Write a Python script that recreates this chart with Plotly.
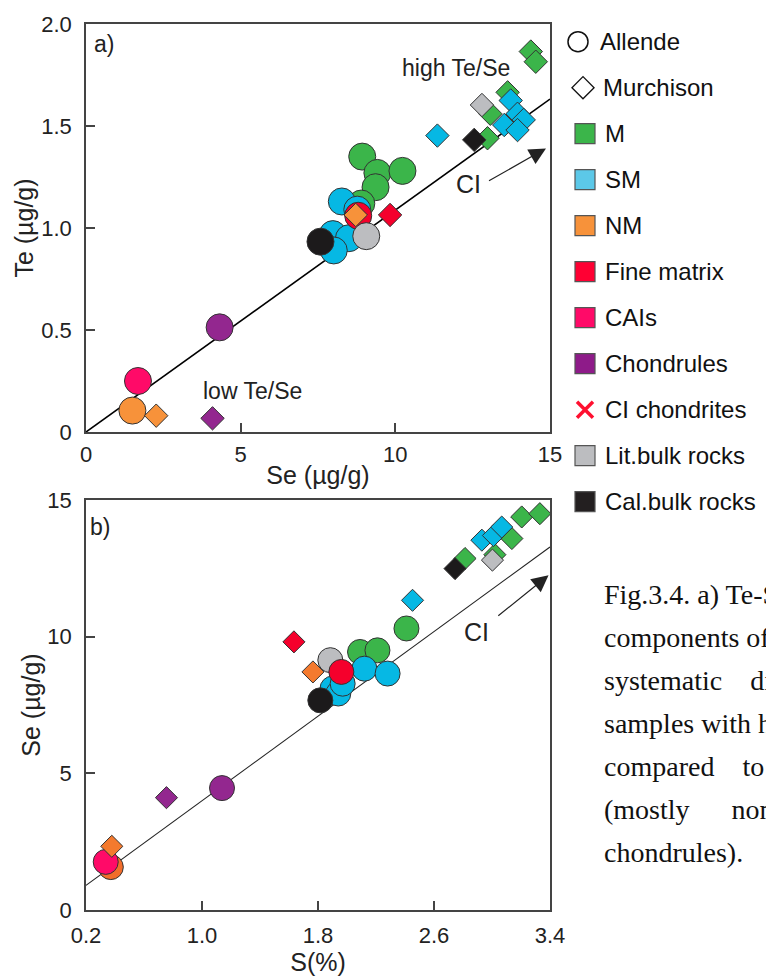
import plotly.graph_objects as go

# ---------------- data: panel a) Te vs Se ----------------
# Allende (circles)
a_M_x = [8.93, 9.42, 10.23, 9.36, 8.90]
a_M_y = [1.35, 1.27, 1.28, 1.20, 1.12]
a_SM_x = [8.27, 7.98, 8.50, 8.01, 8.77]
a_SM_y = [1.13, 0.97, 0.95, 0.89, 1.09]
a_NM_x = [1.50]
a_NM_y = [0.105]
a_FM_x = [8.80]
a_FM_y = [1.06]
a_CAI_x = [1.68]
a_CAI_y = [0.25]
a_CH_x = [4.32]
a_CH_y = [0.513]
a_LIT_x = [9.06]
a_LIT_y = [0.96]
a_CAL_x = [7.58]
a_CAL_y = [0.933]
# Murchison (diamonds)
m_M_x = [14.38, 14.54, 13.63, 13.07, 12.98]
m_M_y = [1.865, 1.815, 1.665, 1.56, 1.44]
m_SM_x = [11.36, 13.73, 13.95, 13.52, 14.15, 13.95]
m_SM_y = [1.453, 1.625, 1.56, 1.505, 1.53, 1.48]
m_NM_x = [2.27, 8.72]
m_NM_y = [0.08, 1.064]
m_FM_x = [9.83]
m_FM_y = [1.064]
m_CH_x = [4.09]
m_CH_y = [0.067]
m_LIT_x = [12.80]
m_LIT_y = [1.603]
m_CAL_x = [12.55]
m_CAL_y = [1.432]
ci_a_x = [0, 15]
ci_a_y = [0, 1.632]

# ---------------- data: panel b) Se vs S ----------------
b_a_M_x = [2.09, 2.21, 2.41]
b_a_M_y = [9.44, 9.50, 10.30]
b_a_SM_x = [1.90, 1.94, 1.97, 2.12, 2.28]
b_a_SM_y = [8.10, 7.92, 8.28, 8.83, 8.65]
b_a_NM_x = [0.371]
b_a_NM_y = [1.57]
b_a_FM_x = [1.961]
b_a_FM_y = [8.71]
b_a_CAI_x = [0.336]
b_a_CAI_y = [1.76]
b_a_CH_x = [1.138]
b_a_CH_y = [4.46]
b_a_LIT_x = [1.885]
b_a_LIT_y = [9.14]
b_a_CAL_x = [1.816]
b_a_CAL_y = [7.67]
b_m_M_x = [2.814, 3.02, 3.137, 3.205, 3.33]
b_m_M_y = [12.86, 13.0, 13.59, 14.38, 14.50]
b_m_SM_x = [2.452, 2.93, 3.01, 3.067]
b_m_SM_y = [11.33, 13.53, 13.70, 14.01]
b_m_NM_x = [0.378, 1.765]
b_m_NM_y = [2.33, 8.71]
b_m_FM_x = [1.634]
b_m_FM_y = [9.81]
b_m_CH_x = [0.755]
b_m_CH_y = [4.11]
b_m_LIT_x = [3.003]
b_m_LIT_y = [12.80]
b_m_CAL_x = [2.745]
b_m_CAL_y = [12.49]
ci_b_x = [0.2, 3.4]
ci_b_y = [0.9, 13.28]

# ---------------- legend entries ----------------
legend_labels = ["Allende", "Murchison", "M", "SM", "NM", "Fine matrix", "CAIs",
                 "Chondrules", "CI chondrites", "Lit.bulk rocks", "Cal.bulk rocks"]

C_M = "#3bb54a"
C_SM = "#06b8e4"
C_NM = "#f7923a"
C_FM = "#f5002c"
C_CAI = "#ff0a68"
C_CH = "#93278f"
C_LIT = "#bcbdc0"
C_CAL = "#1c1a1b"
EDGE = "#333333"

fig = go.Figure()

def add(x, y, color, symbol, size, xa, ya):
    fig.add_trace(go.Scatter(
        x=x, y=y, mode="markers", xaxis=xa, yaxis=ya, showlegend=False,
        hoverinfo="x+y", cliponaxis=False,
        marker=dict(color=color, symbol=symbol, size=size,
                    line=dict(color=EDGE, width=1))))

# CI reference lines
fig.add_trace(go.Scatter(x=ci_a_x, y=ci_a_y, mode="lines", xaxis="x", yaxis="y",
                         line=dict(color="black", width=1.6), showlegend=False, hoverinfo="skip"))
fig.add_trace(go.Scatter(x=ci_b_x, y=ci_b_y, mode="lines", xaxis="x2", yaxis="y2",
                         line=dict(color="#222", width=1.1), showlegend=False, hoverinfo="skip"))

CS_A, DS_A = 27, 18
CS_B, DS_B = 25, 17

# panel a circles
for x, y, c in [(a_M_x, a_M_y, C_M), (a_SM_x, a_SM_y, C_SM), (a_FM_x, a_FM_y, C_FM),
                (a_NM_x, a_NM_y, C_NM), (a_LIT_x, a_LIT_y, C_LIT), (a_CAL_x, a_CAL_y, C_CAL),
                (a_CAI_x, a_CAI_y, C_CAI), (a_CH_x, a_CH_y, C_CH)]:
    add(x, y, c, "circle", CS_A, "x", "y")
# panel a diamonds
for x, y, c in [(m_M_x, m_M_y, C_M), (m_LIT_x, m_LIT_y, C_LIT), (m_SM_x, m_SM_y, C_SM),
                (m_NM_x, m_NM_y, C_NM), (m_FM_x, m_FM_y, C_FM), (m_CH_x, m_CH_y, C_CH),
                (m_CAL_x, m_CAL_y, C_CAL)]:
    add(x, y, c, "diamond", DS_A, "x", "y")

# panel b circles
for x, y, c in [(b_a_M_x, b_a_M_y, C_M), (b_a_SM_x, b_a_SM_y, C_SM), (b_a_LIT_x, b_a_LIT_y, C_LIT),
                (b_a_FM_x, b_a_FM_y, C_FM), (b_a_CAL_x, b_a_CAL_y, C_CAL),
                (b_a_NM_x, b_a_NM_y, "#f26d2b"), (b_a_CAI_x, b_a_CAI_y, C_CAI), (b_a_CH_x, b_a_CH_y, C_CH)]:
    add(x, y, c, "circle", CS_B, "x2", "y2")
# panel b diamonds
for x, y, c in [(b_m_M_x, b_m_M_y, C_M), (b_m_SM_x, b_m_SM_y, C_SM), (b_m_LIT_x, b_m_LIT_y, C_LIT),
                (b_m_NM_x, b_m_NM_y, "#f47a2e"), (b_m_FM_x, b_m_FM_y, C_FM), (b_m_CH_x, b_m_CH_y, C_CH),
                (b_m_CAL_x, b_m_CAL_y, C_CAL)]:
    add(x, y, c, "diamond", DS_B, "x2", "y2")

# legend drawn on a hidden axis
leg_sym = ["circle-open", "diamond-open", "square", "square", "square", "square", "square",
           "square", "x-thin-open", "square", "square"]
leg_col = ["#111", "#111", C_M, "#5cc8e8", C_NM, "#ff0033", C_CAI, "#8e1b89", "#ff1030", C_LIT, "#231f20"]
leg_size = [20, 17, 20, 20, 20, 20, 20, 20, 16, 20, 20]
leg_lw = [1.5, 1.3, 1.2, 1.2, 1.2, 1.2, 1.2, 1.2, 3.5, 1.2, 1.2]
leg_lc = ["#111", "#111", "#555", "#555", "#555", "#555", "#555", "#555", "#ff1030", "#555", "#555"]
leg_mx = [11, 16, 18, 18, 18, 18, 18, 18, 18, 18, 18]
leg_tx = [31, 34, 36, 36, 36, 36, 36, 36, 36, 36, 36]
for i, lab in enumerate(legend_labels):
    fig.add_trace(go.Scatter(
        x=[leg_mx[i]], y=[i], mode="markers", xaxis="x3", yaxis="y3", showlegend=False,
        hoverinfo="skip", cliponaxis=False,
        marker=dict(symbol=leg_sym[i], color=leg_col[i], size=leg_size[i],
                    line=dict(color=leg_lc[i], width=leg_lw[i]))))
    fig.add_annotation(x=leg_tx[i], y=i, xref="x3", yref="y3", text=lab, showarrow=False,
                       xanchor="left", yanchor="middle",
                       font=dict(family="Liberation Sans, Arial", size=24, color="#111"))

FONT = "Liberation Sans, Arial"
axis_common = dict(showline=True, mirror=True, linecolor="#444", linewidth=1.7,
                   ticks="inside", ticklen=9, tickwidth=1.5, tickcolor="#444",
                   showgrid=False, zeroline=False, automargin=False,
                   tickfont=dict(family=FONT, size=22, color="#222"))
TF = dict(family=FONT, size=25, color="#222")

fig.update_layout(
    width=766, height=980, margin=dict(l=0, r=0, t=0, b=0, autoexpand=False),
    paper_bgcolor="white", plot_bgcolor="white", showlegend=False,
    xaxis=dict(domain=[86/766, 550/766], range=[0, 15], tickvals=[0, 5, 10, 15],
               ticktext=["0", "5", "10", "15"], anchor="y", ticklabelstandoff=2,
               title=dict(text="Se (µg/g)", font=TF, standoff=0),
               **axis_common),
    yaxis=dict(domain=[1-432/980, 1-24/980], range=[0, 2], tickvals=[0, 0.5, 1, 1.5, 2],
               ticktext=["0", "0.5", "1.0", "1.5", "2.0"], anchor="x", ticklabelstandoff=8,
               title=dict(text="Te (µg/g)", font=TF, standoff=0),
               **axis_common),
    xaxis2=dict(domain=[86/766, 550/766], range=[0.2, 3.4], tickvals=[0.2, 1.0, 1.8, 2.6, 3.4],
                ticktext=["0.2", "1.0", "1.8", "2.6", "3.4"], anchor="y2", ticklabelstandoff=5,
                title=dict(text="S(%)", font=TF, standoff=3),
                **axis_common),
    yaxis2=dict(domain=[1-910/980, 1-500/980], range=[0, 15], tickvals=[0, 5, 10, 15],
                ticktext=["0", "5", "10", "15"], anchor="x2", ticklabelstandoff=8,
                title=dict(text="Se (µg/g)", font=TF, standoff=0),
                **axis_common),
    xaxis3=dict(domain=[567/766, 1.0], range=[0, 199], visible=False, anchor="y3", automargin=False),
    yaxis3=dict(domain=[1-501.7/980, 1-41.7/980], range=[10, 0], visible=False, anchor="x3", automargin=False),
)

# panel annotations
txt = dict(family=FONT, color="#222")
fig.add_annotation(x=104/766, y=1-44/980, xref="paper", yref="paper", text="a)", showarrow=False,
                   xanchor="center", yanchor="middle", font=dict(size=23, **txt))
fig.add_annotation(x=100/766, y=1-527/980, xref="paper", yref="paper", text="b)", showarrow=False,
                   xanchor="center", yanchor="middle", font=dict(size=23, **txt))
fig.add_annotation(x=11.95, y=1.785, xref="x", yref="y", text="high Te/Se", showarrow=False,
                   font=dict(size=23, **txt))
fig.add_annotation(x=5.37, y=0.2, xref="x", yref="y", text="low Te/Se", showarrow=False,
                   font=dict(size=23, **txt))
fig.add_annotation(x=12.38, y=1.215, xref="x", yref="y", text="CI", showarrow=False,
                   font=dict(size=25, **txt))
fig.add_annotation(x=2.894, y=10.17, xref="x2", yref="y2", text="CI", showarrow=False,
                   font=dict(size=25, **txt))
# CI arrows
fig.add_annotation(x=14.87, y=1.39, ax=12.98, ay=1.227, xref="x", yref="y", axref="x", ayref="y",
                   text="", showarrow=True, arrowhead=2, arrowsize=2.8, arrowwidth=1.2,
                   arrowcolor="#222", standoff=0)
fig.add_annotation(x=3.39, y=12.25, ax=3.033, ay=10.72, xref="x2", yref="y2", axref="x2", ayref="y2",
                   text="", showarrow=True, arrowhead=2, arrowsize=2.8, arrowwidth=1.2,
                   arrowcolor="#222", standoff=0)

# caption text (cut off at the right edge as in the source page)
caption = ["Fig.3.4. a) Te-Se plots of",
           "components of the",
           "systematic\u00a0\u00a0\u00a0 differences",
           "samples with high",
           "compared\u00a0\u00a0\u00a0 to\u00a0\u00a0\u00a0 the",
           "(mostly\u00a0\u00a0\u00a0\u00a0\u00a0 nonmagnetic",
           "chondrules)."]
for i, line in enumerate(caption):
    fig.add_annotation(x=602/766, y=1-(594+43*i)/980, xref="paper", yref="paper", text=line,
                       showarrow=False, xanchor="left", yanchor="middle",
                       font=dict(family="Liberation Serif, Times New Roman", size=28, color="#111"))

fig.write_html("out.html")
